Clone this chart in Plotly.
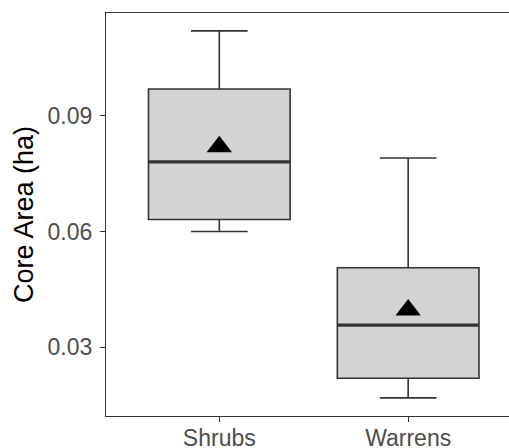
import plotly.graph_objects as go

categories = ["Shrubs", "Warrens"]
lower_whisker = [0.0600, 0.0168]
q1 = [0.0631, 0.0219]
median = [0.0781, 0.0357]
q3 = [0.0970, 0.0506]
upper_whisker = [0.1121, 0.0791]
means = [0.0820, 0.0396]

positions = list(range(len(categories)))
box_width = 0.75
line_col = "#333333"
font_family = "Liberation Sans, Arial, sans-serif"

fig = go.Figure()
fig.add_trace(go.Box(
    x=positions, q1=q1, median=median, q3=q3,
    lowerfence=lower_whisker, upperfence=upper_whisker,
    width=box_width, whiskerwidth=0.4,
    fillcolor="#D3D3D3", line=dict(color=line_col, width=1.6),
    boxpoints=False, showlegend=False, hoverinfo="skip",
))
# thicker median lines (as ggplot)
for p, m in zip(positions, median):
    fig.add_trace(go.Scatter(
        x=[p - box_width / 2, p + box_width / 2], y=[m, m], mode="lines",
        line=dict(color=line_col, width=3.2), showlegend=False, hoverinfo="skip",
    ))
fig.add_trace(go.Scatter(
    x=positions, y=means, mode="markers",
    marker=dict(symbol="triangle-up", size=22, color="black"),
    showlegend=False, hoverinfo="skip",
))

fig.update_layout(
    width=509, height=448,
    margin=dict(l=106, r=0, t=13, b=32),
    paper_bgcolor="white", plot_bgcolor="white",
    font=dict(family=font_family, color="#4D4D4D", size=23),
)
fig.update_xaxes(
    range=[-0.6, 1.534], tickmode="array", tickvals=positions, ticktext=categories,
    showgrid=False, zeroline=False, showline=True, mirror=True, automargin=False,
    linecolor=line_col, linewidth=1.2,
    ticks="outside", ticklen=5, tickcolor=line_col, tickwidth=1.2,
    ticklabelstandoff=-4,
    tickfont=dict(size=23, color="#4D4D4D"),
)
fig.update_yaxes(
    range=[0.01208, 0.11675], tickmode="array", tickvals=[0.03, 0.06, 0.09],
    ticktext=["0.03", "0.06", "0.09"],
    showgrid=False, zeroline=False, showline=True, mirror=False, automargin=False,
    linecolor=line_col, linewidth=1.2,
    ticks="outside", ticklen=5, tickcolor=line_col, tickwidth=1.2,
    ticklabelstandoff=3,
    tickfont=dict(size=23, color="#4D4D4D"),
    title=dict(text="Core Area (ha)", font=dict(size=27, color="black"), standoff=6),
)

fig.write_html("out.html")
